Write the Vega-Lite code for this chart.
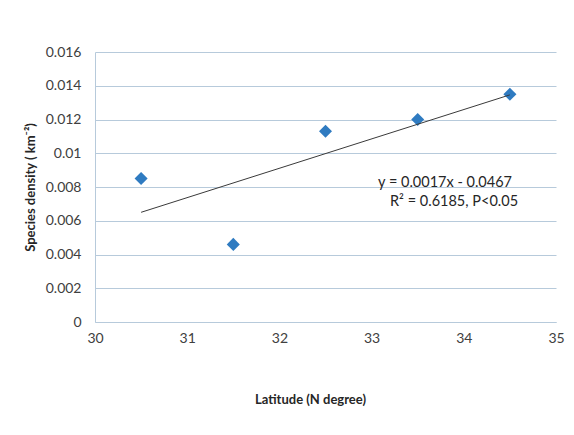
{
  "$schema": "https://vega.github.io/schema/vega-lite/v6.json",
  "autosize": {"type": "none"},
  "width": 461,
  "height": 270,
  "padding": {"left": 95, "top": 52, "right": 18, "bottom": 113},
  "background": "white",
  "config": {
    "font": "Lato",
    "view": {"stroke": null},
    "axis": {
      "labelFont": "Lato",
      "labelFontSize": 14,
      "labelColor": "#404040",
      "labelOverlap": false,
      "labelFlush": false,
      "titleFont": "Lato",
      "titleFontSize": 13,
      "titleFontWeight": "bold",
      "titleColor": "#262626",
      "domainColor": "#B7CADB",
      "gridColor": "#B7CADB",
      "ticks": false
    }
  },
  "datasets": {
    "points": [
      {"latitude": 30.5, "density": 0.0085},
      {"latitude": 31.5, "density": 0.0046},
      {"latitude": 32.5, "density": 0.0113},
      {"latitude": 33.5, "density": 0.012},
      {"latitude": 34.5, "density": 0.0135}
    ],
    "notes": [
      {"latitude": 33.07, "density": 0.00824, "label": "y = 0.0017x - 0.0467"},
      {"latitude": 33.2, "density": 0.00711, "label": "R² = 0.6185, P<0.05"}
    ]
  },
  "data": {"name": "points"},
  "encoding": {
    "x": {
      "field": "latitude", "type": "quantitative",
      "scale": {"domain": [30, 35], "nice": false, "zero": false},
      "axis": {"values": [30, 31, 32, 33, 34, 35], "format": "d", "grid": false, "labelPadding": 9, "title": "Latitude (N degree)", "titlePadding": 48, "titleX": 215}
    },
    "y": {
      "field": "density", "type": "quantitative",
      "scale": {"domain": [0, 0.016], "nice": false},
      "axis": {"values": [0, 0.002, 0.004, 0.006, 0.008, 0.01, 0.012, 0.014, 0.016], "tickCount": 9, "format": "~g", "grid": true, "labelPadding": 14, "title": "Species density ( km⁻²)", "titlePadding": 8}
    }
  },
  "layer": [
    {
      "mark": {"type": "point", "shape": "diamond", "filled": true, "size": 170, "color": "#2F7BC1", "opacity": 1}
    },
    {
      "transform": [{"regression": "density", "on": "latitude"}],
      "mark": {"type": "line", "color": "#3A3A3A", "strokeWidth": 1}
    },
    {
      "data": {"name": "notes"},
      "mark": {"type": "text", "align": "left", "baseline": "middle", "font": "Lato", "fontSize": 14.5, "color": "#262626"},
      "encoding": {
        "text": {"field": "label"}
      }
    }
  ]
}
